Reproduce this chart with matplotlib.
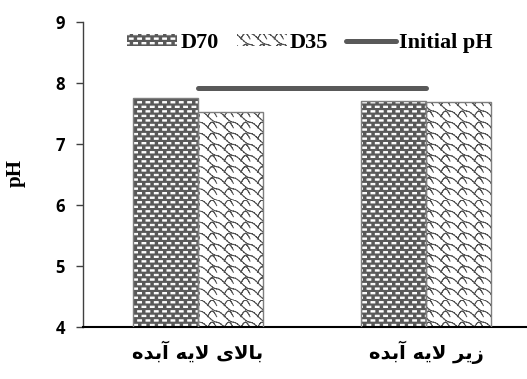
import numpy as np
import matplotlib

matplotlib.use("Agg")

import matplotlib.pyplot as plt
from matplotlib import hatch as mhatch
from matplotlib.lines import Line2D
from matplotlib.patches import Patch
from matplotlib.path import Path

categories = ["بالای لایه آبده", "زیر لایه آبده"]
d70 = [7.75, 7.70]
d35 = [7.53, 7.69]
initial_ph = [7.92, 7.92]
series_names = ["D70", "D35", "Initial pH"]
y_ticks = [4, 5, 6, 7, 8, 9]

DARK = "#595959"

# --- minimal Persian shaping (matplotlib draws glyphs one by one, left to right)
FORMS = {
    "ا": ("\uFE8D", "\uFE8E", None, None),
    "آ": ("\uFE81", "\uFE82", None, None),
    "ب": ("\uFE8F", "\uFE90", "\uFE91", "\uFE92"),
    "د": ("\uFEA9", "\uFEAA", None, None),
    "ر": ("\uFEAD", "\uFEAE", None, None),
    "ز": ("\uFEAF", "\uFEB0", None, None),
    "ل": ("\uFEDD", "\uFEDE", "\uFEDF", "\uFEE0"),
    "ه": ("\uFEE9", "\uFEEA", "\uFEEB", "\uFEEC"),
    "ی": ("\uFBFC", "\uFBFD", "\uFBFE", "\uFBFF"),
    "ي": ("\uFBFC", "\uFBFD", "\uFBFE", "\uFBFF"),
}
LAM_ALEF = {"ا": ("\uFEFB", "\uFEFC"), "آ": ("\uFEF5", "\uFEF6")}


def dual(ch):
    return ch in FORMS and FORMS[ch][2] is not None


def shape(text):
    out = []
    i = 0
    while i < len(text):
        ch = text[i]
        if ch not in FORMS:
            out.append(ch)
            i += 1
            continue
        joins_prev = i > 0 and dual(text[i - 1])
        nxt = text[i + 1] if i + 1 < len(text) else ""
        if ch == "ل" and nxt in LAM_ALEF:
            out.append(LAM_ALEF[nxt][1 if joins_prev else 0])
            i += 2
            continue
        joins_next = dual(ch) and nxt in FORMS
        iso, fin, ini, med = FORMS[ch]
        if joins_prev and joins_next:
            out.append(med)
        elif joins_prev:
            out.append(fin)
        elif joins_next:
            out.append(ini)
        else:
            out.append(iso)
        i += 1
    return "".join(reversed(out))


# --- custom hatches: '-' -> staggered white dashes, 'o' -> shingle curves
class BrickHatch(mhatch.HatchPatternBase):
    rows, cols = 22, 12

    def __init__(self, hatch, density):
        self.num_vertices = 5 * self.rows * self.cols if "-" in hatch else 0

    def set_vertices_and_codes(self, vertices, codes):
        hw, hh = 0.019, 0.0065
        k = 0
        for r in range(self.rows):
            y = (r + 0.5) / self.rows
            shift = 0.27 if r % 2 == 0 else 0.75
            for c in range(self.cols):
                x = (c + shift) / self.cols
                vertices[k:k + 5] = [(x - hw, y - hh), (x + hw, y - hh),
                                     (x + hw, y + hh), (x - hw, y + hh),
                                     (x - hw, y - hh)]
                codes[k:k + 5] = [Path.MOVETO, Path.LINETO, Path.LINETO,
                                  Path.LINETO, Path.CLOSEPOLY]
                k += 5


class ShingleHatch(mhatch.HatchPatternBase):
    cols, rows, seg = 6, 9, 8

    def __init__(self, hatch, density):
        n = self.cols * self.rows * self.seg * 2 * 2
        self.num_vertices = n if "o" in hatch else 0

    def set_vertices_and_codes(self, vertices, codes):
        w, h = 1 / self.cols, 1 / self.rows
        t = np.linspace(0, 1, self.seg + 1)
        step = 3 * t ** 2 - 2 * t ** 3
        k = 0
        for r in range(self.rows):
            for c in range(self.cols):
                x0, y0 = c * w, r * h
                xs = x0 + w * t
                ys = y0 + h * (1 - step)
                # hump joining neighbouring diagonals
                hx = x0 + w * (0.45 + 0.55 * t)
                hy = y0 + h * (0.5 + 0.5 * np.sin(np.pi * t))
                for px, py in ((xs, ys), (hx, hy)):
                    for j in range(self.seg):
                        vertices[k] = (px[j], py[j])
                        vertices[k + 1] = (px[j + 1], py[j + 1])
                        codes[k] = Path.MOVETO
                        codes[k + 1] = Path.LINETO
                        k += 2


mhatch._hatch_types = [BrickHatch, ShingleHatch]
plt.rcParams["hatch.linewidth"] = 0.75

fig = plt.figure(figsize=(5.27, 3.79), dpi=100)
ax = fig.add_axes([0.1575, 0.1372, 0.8425, 0.805])

x = np.arange(len(categories))
width = 0.285

ax.bar(x - width / 2, d70, width, color=DARK, edgecolor="white",
       linewidth=0, hatch="-", zorder=2)
ax.bar(x - width / 2, d70, width, fill=False, edgecolor="#7f7f7f",
       linewidth=1.0, zorder=3)
ax.bar(x + width / 2, d35, width, color="white", edgecolor="#505050",
       linewidth=0, hatch="o", zorder=2)
ax.bar(x + width / 2, d35, width, fill=False, edgecolor="#7f7f7f",
       linewidth=1.0, zorder=3)
ax.plot(x, initial_ph, color=DARK, linewidth=3.6, solid_capstyle="round",
        zorder=4)

ax.set_xlim(-0.504, 1.443)
ax.set_ylim(4, 9)
ax.set_yticks(y_ticks)
ax.set_yticklabels([str(v) for v in y_ticks], fontfamily="Open Sans",
                   fontweight="bold", fontsize=12)
ax.tick_params(axis="y", direction="out", length=5, width=1, color="#404040",
               pad=8)
ax.set_xticks(x)
ax.set_xticklabels([shape(c) for c in categories], fontfamily="DejaVu Sans",
                   fontweight="bold", fontsize=14)
ax.tick_params(axis="x", length=0, pad=10)

for side in ("top", "right"):
    ax.spines[side].set_visible(False)
ax.spines["left"].set_color("#404040")
ax.spines["left"].set_linewidth(1.0)
ax.spines["bottom"].set_color("black")
ax.spines["bottom"].set_linewidth(1.5)

ax.set_ylabel("pH", fontfamily="Liberation Serif", fontweight="bold",
              fontsize=15)
ax.yaxis.set_label_coords(-0.128, 0.505)

handles = [
    Patch(facecolor=DARK, edgecolor="white", linewidth=0, hatch="-"),
    Patch(facecolor="white", edgecolor="#505050", linewidth=0, hatch="o"),
    Line2D([], [], color=DARK, linewidth=3.6, solid_capstyle="round"),
]
fig.legend(handles, series_names, loc="center", bbox_to_anchor=(0.588, 0.886),
           ncol=3, frameon=False, prop={"family": "Liberation Serif",
                                        "weight": "bold", "size": 16},
           handlelength=2.25, handleheight=0.45, handletextpad=0.14,
           columnspacing=0.8, borderpad=0)

fig.savefig("out.png", dpi=100)
